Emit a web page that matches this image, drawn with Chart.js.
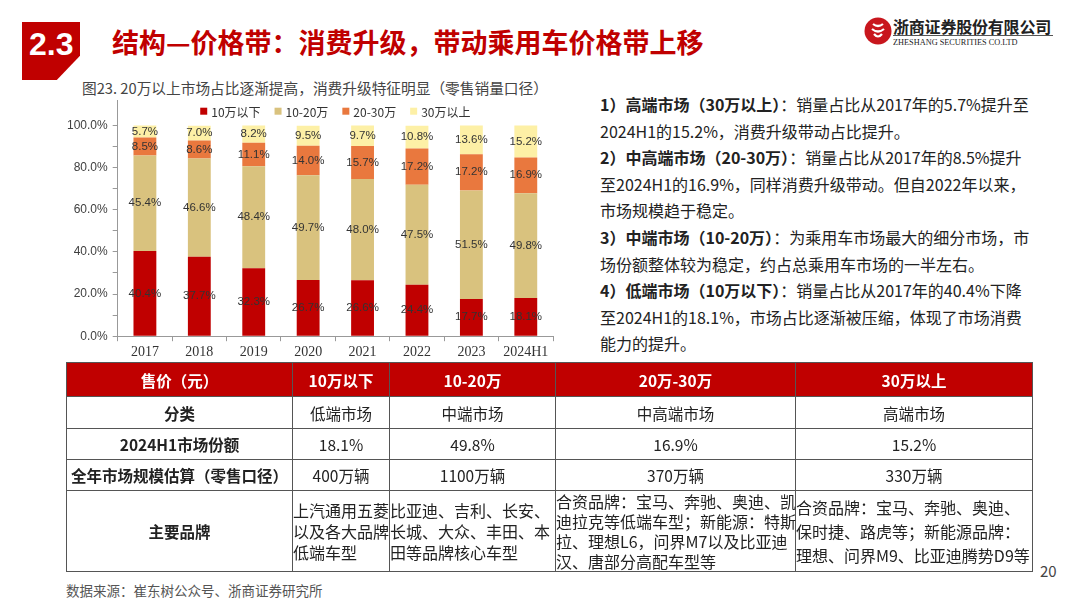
<!DOCTYPE html>
<html>
<head>
<meta charset="utf-8">
<script src="https://cdn.jsdelivr.net/npm/chart.js@4.4.1/dist/chart.umd.min.js"></script>
<style>
  body { margin: 0; width: 1080px; height: 608px; background: #fff; overflow: hidden; position: relative;
         font-family: "Noto Sans CJK SC", "Noto Sans", sans-serif; color: #222; }
  .abs { position: absolute; }
  #badge { left: 22px; top: 22px; width: 58px; height: 58px; background: #c00000;
           clip-path: polygon(0 0, 100% 0, 100% 58%, 60% 100%, 0 100%); }
  #badge span { position: absolute; left: 7px; top: 4px; color: #fff; font: bold 32px "Liberation Sans", sans-serif; }
  #title { left: 112px; top: 22px; color: #c00000; font-size: 27px; font-weight: 700; white-space: nowrap; }
  #logoText { left: 893px; top: 14px; font-size: 16px; font-weight: 700; color: #222; white-space: nowrap; letter-spacing: -0.2px; }
  #logoLine { left: 893px; top: 35px; width: 160px; height: 1px; background: #555; }
  #logoEn { left: 893px; top: 37px; font: 9px "Liberation Serif", serif; color: #222; white-space: nowrap; transform: scaleX(0.92); transform-origin: left top; }
  #figTitle { left: 82px; top: 77px; font-size: 14.7px; color: #444; white-space: nowrap; }
  #chartBox { left: 58px; top: 88px; width: 497px; height: 276px; }
  #notes { left: 600px; top: 91px; font-size: 16px; line-height: 26.6px; color: #222; }
  #notes div { white-space: nowrap; }
  #notes b { font-weight: 700; }
  table { position: absolute; left: 66px; top: 362px; width: 966px; border-collapse: collapse; table-layout: fixed; }
  td { border: 1px solid #555; padding: 0; text-align: center; font-size: 15.5px; color: #222; }
  tr.head td { background: #c00000; color: #fff; font-weight: 700; height: 33px; }
  td.lab { font-weight: 700; }
  td.brand { text-align: left; vertical-align: middle; font-size: 16px; line-height: 21px; white-space: nowrap; overflow: visible; }
  #source { left: 66px; top: 580px; font-size: 13.5px; color: #555; white-space: nowrap; }
  #page { left: 1040px; top: 560px; font-size: 15px; color: #444; }
</style>
</head>
<body>
<div id="badge" class="abs"><span>2.3</span></div>
<div id="title" class="abs">结构—价格带：消费升级，带动乘用车价格带上移</div>

<svg class="abs" style="left:864px;top:17px" width="28" height="28" viewBox="0 0 28 28">
  <circle cx="14" cy="14" r="13.5" fill="#c8161d"/>
  <path d="M9 7 Q14 11 19 7 M8 12 Q14 17 20 12 M10 17 Q14 22 18 17" stroke="#fff" stroke-width="2.2" fill="none"/>
</svg>
<div id="logoText" class="abs">浙商证券股份有限公司</div>
<div id="logoLine" class="abs"></div>
<div id="logoEn" class="abs">ZHESHANG SECURITIES CO.LTD</div>

<div id="figTitle" class="abs">图23. 20万以上市场占比逐渐提高，消费升级特征明显（零售销量口径）</div>
<div id="chartBox" class="abs"><canvas id="shareChart"></canvas></div>

<div id="notes" class="abs">
  <div><b>1）高端市场（30万以上）</b>：销量占比从2017年的5.7%提升至</div>
  <div>2024H1的15.2%，消费升级带动占比提升。</div>
  <div><b>2）中高端市场（20-30万）</b>：销量占比从2017年的8.5%提升</div>
  <div>至2024H1的16.9%，同样消费升级带动。但自2022年以来，</div>
  <div>市场规模趋于稳定。</div>
  <div><b>3）中端市场（10-20万）</b>：为乘用车市场最大的细分市场，市</div>
  <div>场份额整体较为稳定，约占总乘用车市场的一半左右。</div>
  <div><b>4）低端市场（10万以下）</b>：销量占比从2017年的40.4%下降</div>
  <div>至2024H1的18.1%，市场占比逐渐被压缩，体现了市场消费</div>
  <div>能力的提升。</div>
</div>

<table>
  <colgroup><col style="width:226px"><col style="width:97px"><col style="width:166px"><col style="width:240px"><col style="width:237px"></colgroup>
  <tr class="head"><td>售价（元）</td><td>10万以下</td><td>10-20万</td><td>20万-30万</td><td>30万以上</td></tr>
  <tr style="height:32px"><td class="lab">分类</td><td>低端市场</td><td>中端市场</td><td>中高端市场</td><td>高端市场</td></tr>
  <tr style="height:31px"><td class="lab">2024H1市场份额</td><td>18.1%</td><td>49.8%</td><td>16.9%</td><td>15.2%</td></tr>
  <tr style="height:31px"><td class="lab">全年市场规模估算（零售口径）</td><td>400万辆</td><td>1100万辆</td><td>370万辆</td><td>330万辆</td></tr>
  <tr style="height:80px">
    <td class="lab">主要品牌</td>
    <td class="brand">上汽通用五菱<br>以及各大品牌<br>低端车型</td>
    <td class="brand">比亚迪、吉利、长安、<br>长城、大众、丰田、本<br>田等品牌核心车型</td>
    <td class="brand" style="line-height:20px">合资品牌：宝马、奔驰、奥迪、凯<br>迪拉克等低端车型；新能源：特斯<br>拉、理想L6，问界M7以及比亚迪<br>汉、唐部分高配车型等</td>
    <td class="brand" style="line-height:24px">合资品牌：宝马、奔驰、奥迪、<br>保时捷、路虎等；新能源品牌：<br>理想、问界M9、比亚迪腾势D9等</td>
  </tr>
</table>

<div id="source" class="abs">数据来源：崔东树公众号、浙商证券研究所</div>
<div id="page" class="abs">20</div>

<script>
// categories and shares (%) per price band
var years = ["2017", "2018", "2019", "2020", "2021", "2022", "2023", "2024H1"];
var bandNames = ["10万以下", "10-20万", "20-30万", "30万以上"];
var below10 = [40.4, 37.7, 32.3, 26.7, 26.6, 24.4, 17.7, 18.1];
var from10to20 = [45.4, 46.6, 48.4, 49.7, 48.0, 47.5, 51.5, 49.8];
var from20to30 = [8.5, 8.6, 11.1, 14.0, 15.7, 17.2, 17.2, 16.9];
var above30 = [5.7, 7.0, 8.2, 9.5, 9.7, 10.8, 13.6, 15.2];
var bandColors = ["#c00000", "#d9c27e", "#e9783e", "#fdf0a6"];

// value labels in the middle of each segment
var segLabels = {
	id: "segLabels",
	afterDatasetsDraw: function(chart) {
		var ctx = chart.ctx;
		ctx.save();
		ctx.font = '11.5px "Liberation Sans"';
		ctx.fillStyle = "#333";
		ctx.textAlign = "center";
		ctx.textBaseline = "middle";
		chart.data.datasets.forEach(function(ds, i) {
			chart.getDatasetMeta(i).data.forEach(function(bar, j) {
				ctx.fillText(ds.data[j].toFixed(1) + "%", bar.x, (bar.y + bar.base) / 2);
			});
		});
		ctx.restore();
	}
};

// legend drawn inside the plot, above the 100% line (like the Excel original)
var innerLegend = {
	id: "innerLegend",
	afterDraw: function(chart) {
		var ctx = chart.ctx, area = chart.chartArea;
		var box = 7, gap = 4, space = 14;
		ctx.save();
		ctx.font = '12px "Noto Sans CJK SC"';
		ctx.textBaseline = "middle";
		var widths = chart.data.datasets.map(function(ds) { return box + gap + ctx.measureText(ds.label).width; });
		var total = widths.reduce(function(a, b) { return a + b; }, 0) + space * (widths.length - 1);
		var x = (area.left + area.right) / 2 - total / 2;
		var y = area.top + 11;
		chart.data.datasets.forEach(function(ds, i) {
			ctx.fillStyle = ds.backgroundColor;
			ctx.fillRect(x, y - box / 2, box, box);
			ctx.fillStyle = "#333";
			ctx.fillText(ds.label, x + box + gap, y + 1);
			x += widths[i] + space;
		});
		ctx.restore();
	}
};

var seriesData = [below10, from10to20, from20to30, above30];
var datasets = bandNames.map(function(name, i) {
	return {
		label: name,
		data: seriesData[i],
		backgroundColor: bandColors[i],
		borderWidth: 0,
		barPercentage: 0.42,
		categoryPercentage: 1
	};
});

var ctx = document.getElementById("shareChart").getContext("2d");
var shareChart = new Chart(ctx, {
	type: "bar",
	data: { labels: years, datasets: datasets },
	plugins: [segLabels, innerLegend],
	options: {
		responsive: true,
		maintainAspectRatio: false,
		animation: false,
		layout: { padding: { left: 4, right: 2, top: 8, bottom: 0 } },
		plugins: {
			tooltip: { enabled: false },
			legend: { display: false }
		},
		scales: {
			x: {
				stacked: true,
				grid: { display: true, drawOnChartArea: false, tickLength: 5, color: "#999", offset: true },
				border: { color: "#999" },
				ticks: { color: "#333", padding: 3, font: { family: "Liberation Serif", size: 14 } }
			},
			y: {
				stacked: true,
				min: 0,
				max: 112,
				grid: {
					drawOnChartArea: false,
					tickLength: 5,
					color: function(c) { return c.tick && c.tick.value > 100 ? "rgba(0,0,0,0)" : "#999"; }
				},
				border: { color: "#999" },
				ticks: {
					stepSize: 10,
					padding: 5,
					color: "#404040",
					font: { family: "Liberation Sans", size: 12 },
					callback: function(v) { return (v % 20 === 0 && v <= 100) ? v.toFixed(1) + "%" : ""; }
				}
			}
		}
	}
});
</script>
</body>
</html>
